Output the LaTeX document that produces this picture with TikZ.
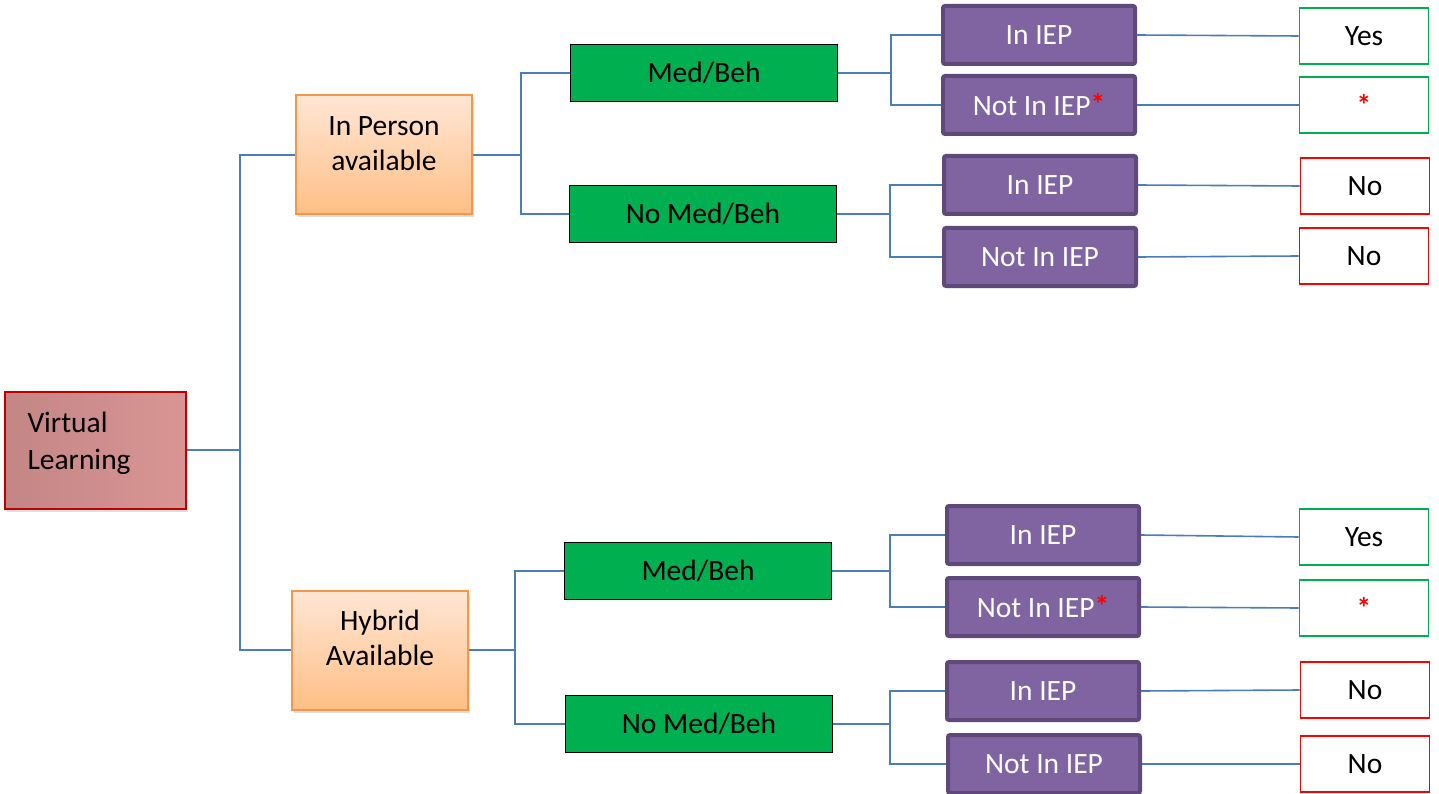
\documentclass[tikz,border=0pt]{standalone}
\usepackage{fontspec}
\setmainfont{Carlito}
\usetikzlibrary{shadows}

\definecolor{linkblue}{HTML}{4A7EBB}
\definecolor{iepfill}{HTML}{8064A2}
\definecolor{iepedge}{HTML}{5F497A}
\definecolor{medgreen}{HTML}{00B050}
\definecolor{orangeedge}{HTML}{F79646}
\definecolor{orangetop}{HTML}{FFE6D4}
\definecolor{orangebot}{HTML}{FFBF86}
\definecolor{rootfill}{HTML}{D99594}
\definecolor{rootedge}{HTML}{C00000}
\definecolor{starred}{HTML}{FF0000}

\tikzset{
  link/.style={draw=linkblue, line width=1.6pt},
  rootbox/.style={draw=rootedge, line width=2pt, left color=rootfill!90!black, middle color=rootfill!97!black,
    right color=rootfill,
    minimum height=117pt, inner xsep=23pt, inner ysep=0pt, text width=135pt, align=left,
    font=\fontsize{29.5}{37}\selectfont, drop shadow={opacity=0.25, shadow xshift=2pt, shadow yshift=-3pt}},
  availbox/.style={draw=orangeedge, line width=2pt, top color=orangetop, bottom color=orangebot,
    minimum width=176pt, minimum height=119pt, align=center, font=\fontsize{29.5}{35}\selectfont,
    drop shadow={opacity=0.25, shadow xshift=2pt, shadow yshift=-3pt}},
  medbox/.style={draw=black, line width=1.8pt, fill=medgreen, minimum width=267pt, minimum height=57pt,
    font=\fontsize{29.5}{34}\selectfont},
  iepbox/.style={draw=iepedge, line width=4pt, fill=iepfill, rounded corners=2pt, text=white,
    minimum width=192pt, minimum height=58pt, font=\fontsize{29.5}{34}\selectfont},
  yesbox/.style={draw=medgreen, line width=1.8pt, fill=white, minimum width=129pt, minimum height=56pt,
    font=\fontsize{29.5}{34}\selectfont},
  nobox/.style={yesbox, draw=starred}
}
\newcommand{\redstar}{\textcolor{starred}{\raisebox{1pt}{\bfseries *}}}
\newcommand{\uplines}[3]{\raisebox{#1}[30pt][30pt]{\begin{tabular}{@{}#2@{}}#3\end{tabular}}}

\begin{document}
\begin{tikzpicture}[x=1pt,y=-1pt]
    \useasboundingbox (0,0) rectangle (1439,794);

    \node[rootbox] (vl) at (95,450) {\uplines{0.5pt}{l}{Virtual\\Learning}};
    \node[availbox] (ip) at (384,155) {\uplines{3pt}{c}{In Person\\available}};
    \node[availbox] (hy) at (380,650) {\uplines{2.5pt}{c}{Hybrid\\Available}};

    \node[medbox] (mb1) at (704,73) {Med/Beh};
    \node[medbox] (nmb1) at (703,214) {No Med/Beh};
    \node[medbox] (mb2) at (698,571) {Med/Beh};
    \node[medbox] (nmb2) at (699,724) {No Med/Beh};

    \node[iepbox] (iep1) at (1039,35) {In IEP};
    \node[iepbox] (niep1) at (1039,105) {Not In IEP\redstar};
    \node[iepbox] (iep2) at (1040,185) {In IEP};
    \node[iepbox] (niep2) at (1040,257) {Not In IEP};
    \node[iepbox] (iep3) at (1043,535) {In IEP};
    \node[iepbox] (niep3) at (1043,607) {Not In IEP\redstar};
    \node[iepbox] (iep4) at (1043,691) {In IEP};
    \node[iepbox] (niep4) at (1044,764) {Not In IEP};

    \node[yesbox] (r1) at (1364,36) {Yes};
    \node[yesbox] (r2) at (1364,105) {\redstar};
    \node[nobox] (r3) at (1365,186) {No};
    \node[nobox] (r4) at (1364,256) {No};
    \node[yesbox] (r5) at (1364,537) {Yes};
    \node[yesbox] (r6) at (1364,608) {\redstar};
    \node[nobox] (r7) at (1365,690) {No};
    \node[nobox] (r8) at (1365,764) {No};

    \coordinate (t0) at (240,450);
    \coordinate (t1) at (521,155);
    \coordinate (t2) at (515,650);
    \coordinate (t3) at (891,73);
    \coordinate (t4) at (890,214);
    \coordinate (t5) at (890,571);
    \coordinate (t6) at (890,724);

    \draw[link] (vl.east) -- (t0) |- (ip.west);
    \draw[link] (t0) |- (hy.west);
    \draw[link] (ip.east) -- (t1) |- (mb1.west);
    \draw[link] (t1) |- (nmb1.west);
    \draw[link] (hy.east) -- (t2) |- (mb2.west);
    \draw[link] (t2) |- (nmb2.west);
    \draw[link] (mb1.east) -- (t3) |- (iep1.west);
    \draw[link] (t3) |- (niep1.west);
    \draw[link] (nmb1.east) -- (t4) |- (iep2.west);
    \draw[link] (t4) |- (niep2.west);
    \draw[link] (mb2.east) -- (t5) |- (iep3.west);
    \draw[link] (t5) |- (niep3.west);
    \draw[link] (nmb2.east) -- (t6) |- (iep4.west);
    \draw[link] (t6) |- (niep4.west);

    \draw[link] (iep1.east) -- (r1.west);
    \draw[link] (niep1.east) -- (r2.west);
    \draw[link] (iep2.east) -- (r3.west);
    \draw[link] (niep2.east) -- (r4.west);
    \draw[link] (iep3.east) -- (r5.west);
    \draw[link] (niep3.east) -- (r6.west);
    \draw[link] (iep4.east) -- (r7.west);
    \draw[link] (niep4.east) -- (r8.west);
\end{tikzpicture}
\end{document}
